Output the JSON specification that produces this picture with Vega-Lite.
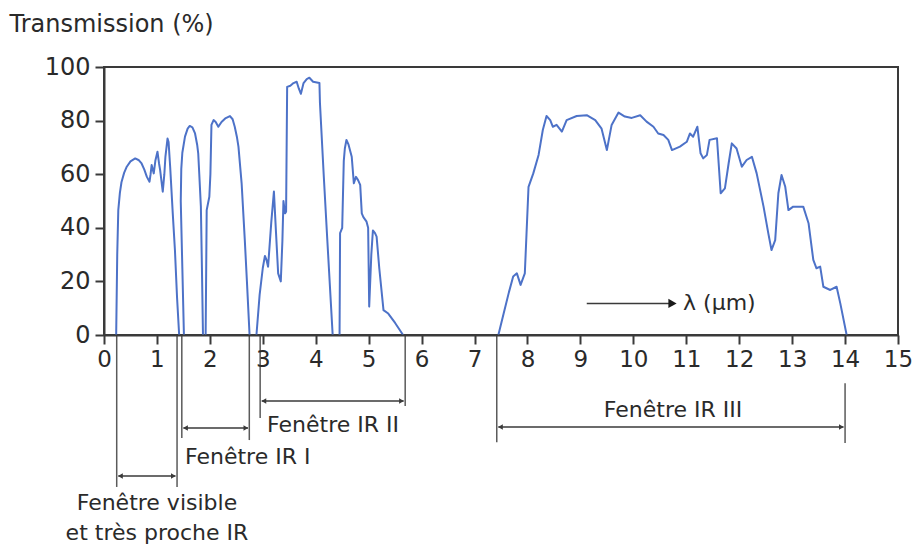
{
  "$schema": "https://vega.github.io/schema/vega-lite/v6.json",
  "width": 794,
  "height": 268,
  "autosize": "none",
  "padding": {"left": 104, "top": 67, "right": 16, "bottom": 213},
  "background": "white",
  "config": {"view": {"stroke": "#3a3a3a", "strokeWidth": 2}, "font": "DejaVu Sans"},
  "datasets": {
    "curve": [
      {"band":1,"um":0.23,"pct":0},{"band":1,"um":0.25,"pct":30},{"band":1,"um":0.27,"pct":46.6},{"band":1,"um":0.30,"pct":53},{"band":1,"um":0.33,"pct":57},{"band":1,"um":0.38,"pct":60.5},{"band":1,"um":0.43,"pct":62.8},{"band":1,"um":0.50,"pct":64.8},{"band":1,"um":0.59,"pct":65.9},{"band":1,"um":0.66,"pct":65.2},{"band":1,"um":0.71,"pct":64},{"band":1,"um":0.76,"pct":61.8},{"band":1,"um":0.81,"pct":59},{"band":1,"um":0.86,"pct":57.2},{"band":1,"um":0.88,"pct":60},{"band":1,"um":0.90,"pct":63.4},{"band":1,"um":0.94,"pct":60.3},{"band":1,"um":0.97,"pct":65},{"band":1,"um":1.01,"pct":68.4},{"band":1,"um":1.04,"pct":64},{"band":1,"um":1.06,"pct":61.6},{"band":1,"um":1.11,"pct":53.5},{"band":1,"um":1.14,"pct":60},{"band":1,"um":1.16,"pct":66.5},{"band":1,"um":1.20,"pct":73.3},{"band":1,"um":1.22,"pct":72},{"band":1,"um":1.25,"pct":62.8},{"band":1,"um":1.30,"pct":45},{"band":1,"um":1.34,"pct":31.7},{"band":1,"um":1.38,"pct":14},{"band":1,"um":1.42,"pct":0},
      {"band":2,"um":1.51,"pct":0},{"band":2,"um":1.48,"pct":25},{"band":2,"um":1.45,"pct":50},{"band":2,"um":1.46,"pct":62},{"band":2,"um":1.48,"pct":68},{"band":2,"um":1.53,"pct":74},{"band":2,"um":1.58,"pct":77},{"band":2,"um":1.62,"pct":78},{"band":2,"um":1.67,"pct":77.5},{"band":2,"um":1.72,"pct":75.2},{"band":2,"um":1.76,"pct":71},{"band":2,"um":1.78,"pct":67.8},{"band":2,"um":1.80,"pct":60},{"band":2,"um":1.83,"pct":48},{"band":2,"um":1.85,"pct":25},{"band":2,"um":1.87,"pct":0},
      {"band":3,"um":1.92,"pct":0},{"band":3,"um":1.94,"pct":46.6},{"band":3,"um":1.99,"pct":51.6},{"band":3,"um":2.01,"pct":60},{"band":3,"um":2.03,"pct":78.4},{"band":3,"um":2.07,"pct":80.2},{"band":3,"um":2.11,"pct":79.5},{"band":3,"um":2.16,"pct":77.7},{"band":3,"um":2.22,"pct":79.5},{"band":3,"um":2.29,"pct":80.8},{"band":3,"um":2.38,"pct":81.7},{"band":3,"um":2.43,"pct":80.5},{"band":3,"um":2.47,"pct":77.7},{"band":3,"um":2.51,"pct":74},{"band":3,"um":2.54,"pct":70.3},{"band":3,"um":2.60,"pct":56.6},{"band":3,"um":2.66,"pct":35.4},{"band":3,"um":2.70,"pct":20},{"band":3,"um":2.75,"pct":0},
      {"band":4,"um":2.88,"pct":0},{"band":4,"um":2.94,"pct":15},{"band":4,"um":3.00,"pct":25},{"band":4,"um":3.04,"pct":29.5},{"band":4,"um":3.07,"pct":28},{"band":4,"um":3.10,"pct":25.5},{"band":4,"um":3.16,"pct":42},{"band":4,"um":3.21,"pct":53.5},{"band":4,"um":3.25,"pct":38},{"band":4,"um":3.29,"pct":23},{"band":4,"um":3.34,"pct":20},{"band":4,"um":3.37,"pct":35},{"band":4,"um":3.39,"pct":50},{"band":4,"um":3.42,"pct":45.4},{"band":4,"um":3.44,"pct":46},{"band":4,"um":3.46,"pct":92.6},{"band":4,"um":3.52,"pct":93},{"band":4,"um":3.58,"pct":94},{"band":4,"um":3.64,"pct":94.5},{"band":4,"um":3.68,"pct":92},{"band":4,"um":3.72,"pct":90},{"band":4,"um":3.77,"pct":94},{"band":4,"um":3.83,"pct":95.5},{"band":4,"um":3.88,"pct":96},{"band":4,"um":3.95,"pct":94.5},{"band":4,"um":4.07,"pct":94},{"band":4,"um":4.08,"pct":86.5},{"band":4,"um":4.15,"pct":60},{"band":4,"um":4.22,"pct":35},{"band":4,"um":4.32,"pct":0},
      {"band":5,"um":4.45,"pct":0},{"band":5,"um":4.46,"pct":38},{"band":5,"um":4.50,"pct":40},{"band":5,"um":4.53,"pct":65},{"band":5,"um":4.55,"pct":69.6},{"band":5,"um":4.58,"pct":72.8},{"band":5,"um":4.62,"pct":71},{"band":5,"um":4.68,"pct":66.5},{"band":5,"um":4.72,"pct":56.6},{"band":5,"um":4.76,"pct":59},{"band":5,"um":4.80,"pct":57.8},{"band":5,"um":4.84,"pct":56},{"band":5,"um":4.87,"pct":45.4},{"band":5,"um":4.90,"pct":44},{"band":5,"um":4.96,"pct":42.3},{"band":5,"um":4.99,"pct":40},{"band":5,"um":5.01,"pct":10.6},{"band":5,"um":5.05,"pct":30},{"band":5,"um":5.08,"pct":39},{"band":5,"um":5.12,"pct":38},{"band":5,"um":5.15,"pct":36.7},{"band":5,"um":5.20,"pct":25},{"band":5,"um":5.28,"pct":9.3},{"band":5,"um":5.37,"pct":8},{"band":5,"um":5.50,"pct":4.5},{"band":5,"um":5.65,"pct":0},
      {"band":6,"um":7.45,"pct":0},{"band":6,"um":7.55,"pct":8},{"band":6,"um":7.65,"pct":16},{"band":6,"um":7.73,"pct":21.8},{"band":6,"um":7.80,"pct":23},{"band":6,"um":7.87,"pct":18.7},{"band":6,"um":7.95,"pct":23},{"band":6,"um":8.02,"pct":55.3},{"band":6,"um":8.11,"pct":60.3},{"band":6,"um":8.21,"pct":67.2},{"band":6,"um":8.29,"pct":76.5},{"band":6,"um":8.36,"pct":81.7},{"band":6,"um":8.43,"pct":80.2},{"band":6,"um":8.48,"pct":77.7},{"band":6,"um":8.55,"pct":78.4},{"band":6,"um":8.65,"pct":75.9},{"band":6,"um":8.74,"pct":80.2},{"band":6,"um":8.93,"pct":81.7},{"band":6,"um":9.12,"pct":82},{"band":6,"um":9.28,"pct":80.2},{"band":6,"um":9.40,"pct":77},{"band":6,"um":9.50,"pct":69},{"band":6,"um":9.59,"pct":78.4},{"band":6,"um":9.72,"pct":83},{"band":6,"um":9.84,"pct":81.5},{"band":6,"um":9.97,"pct":81},{"band":6,"um":10.13,"pct":82},{"band":6,"um":10.25,"pct":79.6},{"band":6,"um":10.38,"pct":77.7},{"band":6,"um":10.47,"pct":75.2},{"band":6,"um":10.57,"pct":74.6},{"band":6,"um":10.66,"pct":72.8},{"band":6,"um":10.73,"pct":69},{"band":6,"um":10.88,"pct":70.3},{"band":6,"um":11.01,"pct":72.1},{"band":6,"um":11.07,"pct":75.2},{"band":6,"um":11.13,"pct":74},{"band":6,"um":11.21,"pct":77.7},{"band":6,"um":11.27,"pct":67.8},{"band":6,"um":11.32,"pct":65.9},{"band":6,"um":11.39,"pct":67.2},{"band":6,"um":11.44,"pct":72.8},{"band":6,"um":11.58,"pct":73.4},{"band":6,"um":11.65,"pct":52.9},{"band":6,"um":11.73,"pct":54.7},{"band":6,"um":11.80,"pct":64},{"band":6,"um":11.86,"pct":71.5},{"band":6,"um":11.95,"pct":69.6},{"band":6,"um":12.05,"pct":62.8},{"band":6,"um":12.14,"pct":65.3},{"band":6,"um":12.24,"pct":66.5},{"band":6,"um":12.33,"pct":60.3},{"band":6,"um":12.46,"pct":47.9},{"band":6,"um":12.55,"pct":37.9},{"band":6,"um":12.61,"pct":31.7},{"band":6,"um":12.68,"pct":35.4},{"band":6,"um":12.74,"pct":52.9},{"band":6,"um":12.80,"pct":59.7},{"band":6,"um":12.87,"pct":55.3},{"band":6,"um":12.93,"pct":46.6},{"band":6,"um":13.02,"pct":47.9},{"band":6,"um":13.21,"pct":47.9},{"band":6,"um":13.31,"pct":41.7},{"band":6,"um":13.40,"pct":28},{"band":6,"um":13.46,"pct":24.9},{"band":6,"um":13.53,"pct":25.5},{"band":6,"um":13.59,"pct":18},{"band":6,"um":13.72,"pct":16.8},{"band":6,"um":13.84,"pct":18},{"band":6,"um":13.91,"pct":11.8},{"band":6,"um":14.03,"pct":0}
    ],
    "vlines": [
      {"um":0.24,"pct":0,"bottom":-56.7},
      {"um":1.38,"pct":0,"bottom":-56.7},
      {"um":1.47,"pct":0,"bottom":-38.4},
      {"um":2.745,"pct":0,"bottom":-39.2},
      {"um":2.95,"pct":0,"bottom":-31},
      {"um":5.69,"pct":0,"bottom":-26.5},
      {"um":7.42,"pct":0,"bottom":-40},
      {"um":14.0,"pct":-18,"bottom":-40.3}
    ],
    "hlines": [
      {"um":0.27,"to":1.35,"pct":-52.6},
      {"um":1.50,"to":2.72,"pct":-34.7},
      {"um":2.98,"to":5.66,"pct":-24.6},
      {"um":7.45,"to":13.97,"pct":-34.3},
      {"um":9.12,"to":10.75,"pct":11.8}
    ],
    "heads": [
      {"um":0.31,"pct":-52.6,"dir":"left"},{"um":1.31,"pct":-52.6,"dir":"right"},
      {"um":1.54,"pct":-34.7,"dir":"left"},{"um":2.68,"pct":-34.7,"dir":"right"},
      {"um":3.02,"pct":-24.6,"dir":"left"},{"um":5.62,"pct":-24.6,"dir":"right"},
      {"um":7.49,"pct":-34.3,"dir":"left"},{"um":13.93,"pct":-34.3,"dir":"right"}
    ],
    "bighead": [{"um":10.74,"pct":11.8,"dir":"right"}],
    "labelsCenter": [
      {"um":1.0,"pct":-62.7,"label":"Fenêtre  visible"},
      {"um":1.0,"pct":-73.9,"label":"et très proche IR"},
      {"um":10.75,"pct":-28,"label":"Fenêtre IR III"}
    ],
    "labelsLeft": [
      {"um":1.53,"pct":-45.5,"label":"Fenêtre IR I"},
      {"um":3.08,"pct":-33.6,"label":"Fenêtre IR II"},
      {"um":10.94,"pct":11.8,"label":"λ (µm)"}
    ]
  },
  "encoding": {
    "x": {"field": "um", "type": "quantitative", "scale": {"domain": [0, 15], "nice": false, "zero": false},
      "axis": {"values": [0,1,2,3,4,5,6,7,8,9,10,11,12,13,14,15], "title": null, "grid": false, "zindex": 1,
        "domainColor": "#3a3a3a", "domainWidth": 2, "tickColor": "#3a3a3a", "tickWidth": 2, "tickSize": 9,
        "labelFont": "DejaVu Sans", "labelFontSize": 23, "labelColor": "#2a2a2a", "labelPadding": 4,
        "labelFlush": false, "labelOverlap": false}},
    "y": {"field": "pct", "type": "quantitative", "scale": {"domain": [0, 100], "nice": false},
      "axis": {"values": [0,20,40,60,80,100], "grid": false, "zindex": 1,
        "domainColor": "#3a3a3a", "domainWidth": 2, "tickColor": "#3a3a3a", "tickWidth": 2, "tickSize": 9,
        "labelFont": "DejaVu Sans", "labelFontSize": 24, "labelColor": "#2a2a2a", "labelPadding": 5,
        "title": "Transmission (%)", "titleAngle": 0, "titleX": -95, "titleY": -43, "titleAlign": "left",
        "titleBaseline": "middle", "titleFont": "DejaVu Sans", "titleFontSize": 24, "titleFontWeight": "normal",
        "titleColor": "#2a2a2a"}}
  },
  "layer": [
    {
      "data": {"name": "curve"},
      "mark": {"type": "line", "color": "#4d72c8", "strokeWidth": 2, "strokeJoin": "round"},
      "encoding": {
        "detail": {"field": "band", "type": "nominal"},
        "order": {"value": null}
      }
    },
    {
      "data": {"name": "vlines"},
      "mark": {"type": "rule", "color": "#5a5a5a", "strokeWidth": 1.5},
      "encoding": {"y2": {"field": "bottom"}}
    },
    {
      "data": {"name": "hlines"},
      "mark": {"type": "rule", "color": "#3a3a3a", "strokeWidth": 1.5},
      "encoding": {"x2": {"field": "to"}}
    },
    {
      "data": {"name": "heads"},
      "mark": {"type": "point", "filled": true, "color": "#3a3a3a", "size": 30, "opacity": 1},
      "encoding": {
        "shape": {"field": "dir", "type": "nominal", "scale": {"domain": ["left", "right"], "range": ["triangle-left", "triangle-right"]}, "legend": null}
      }
    },
    {
      "data": {"name": "bighead"},
      "mark": {"type": "point", "filled": true, "color": "#1a1a1a", "size": 90, "opacity": 1},
      "encoding": {
        "shape": {"field": "dir", "type": "nominal", "scale": {"domain": ["left", "right"], "range": ["triangle-left", "triangle-right"]}, "legend": null}
      }
    },
    {
      "data": {"name": "labelsCenter"},
      "mark": {"type": "text", "align": "center", "baseline": "middle", "font": "DejaVu Sans", "fontSize": 22, "color": "#2a2a2a"},
      "encoding": {"text": {"field": "label"}}
    },
    {
      "data": {"name": "labelsLeft"},
      "mark": {"type": "text", "align": "left", "baseline": "middle", "font": "DejaVu Sans", "fontSize": 22, "color": "#2a2a2a"},
      "encoding": {"text": {"field": "label"}}
    }
  ]
}
